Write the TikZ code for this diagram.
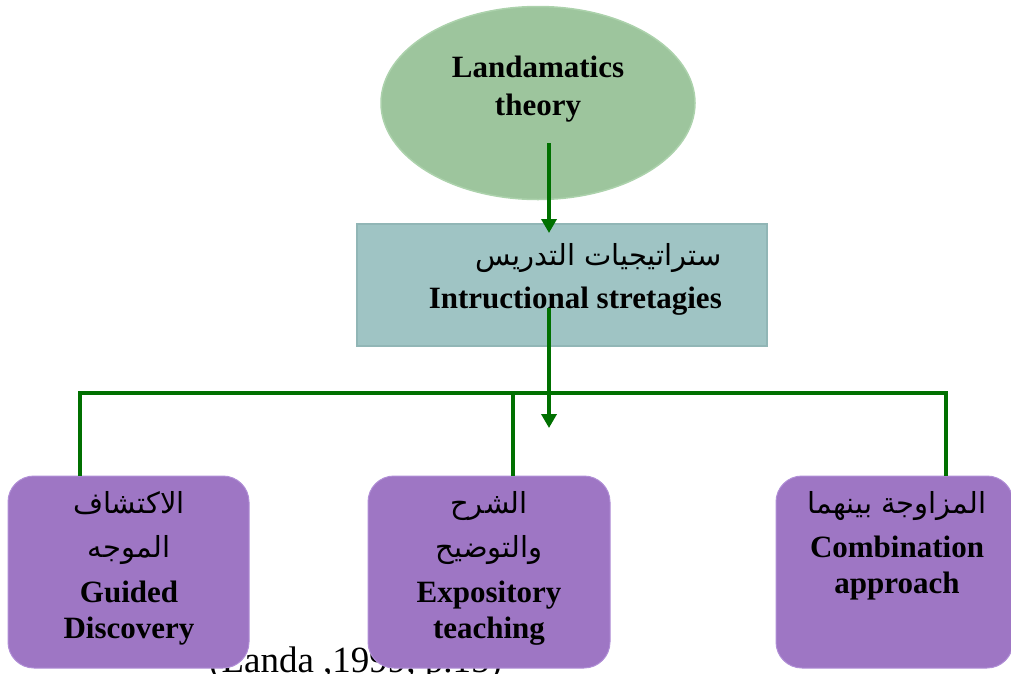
\documentclass[tikz,border=0pt]{standalone}
\usepackage{fontspec}
\setmainfont{Liberation Serif}
\newfontfamily\arabicfont[Script=Arabic]{DejaVu Sans}
\TeXXeTstate=1
\usetikzlibrary{shapes.geometric,arrows.meta}

\definecolor{theoryfill}{RGB}{157,197,157}
\definecolor{theoryedge}{RGB}{172,210,172}
\definecolor{stratfill}{RGB}{159,196,196}
\definecolor{strated}{RGB}{145,182,182}
\definecolor{methodfill}{RGB}{158,118,196}
\definecolor{methodedge}{RGB}{176,142,214}
\definecolor{linkgreen}{RGB}{0,112,0}

\tikzset{
  engline/.style={font=\fontsize{31}{36}\selectfont\bfseries, inner sep=0pt, anchor=base},
  arline/.style={font=\arabicfont\fontsize{29}{34}\selectfont, inner sep=0pt, anchor=base},
  methodbox/.style={draw=methodedge, line width=1pt, fill=methodfill, rounded corners=26pt},
  link/.style={draw=linkgreen, line width=4pt},
  flowarrow/.style={link, -{Triangle[width=15pt,length=14pt]}},
}

\begin{document}
\begin{tikzpicture}[x=1pt,y=-1pt]
\useasboundingbox (0,0) rectangle (1011,673);
\clip (0,0) rectangle (1011,673);

% source line, partly covered by the boxes
\node[font=\fontsize{37}{42}\selectfont, inner sep=0pt, anchor=base west] (source) at (209,672) {(Landa ,1999, p.15)};

% theory ellipse
\node[ellipse, draw=theoryedge, line width=1.5pt, fill=theoryfill,
      minimum width=314pt, minimum height=193pt] (theory) at (538,103) {};
\node[engline] (theoryA) at (538,77) {Landamatics};
\node[engline] (theoryB) at (538,115) {theory};

% strategies rectangle
\node[draw=strated, line width=1.5pt, fill=stratfill, minimum width=410pt,
      minimum height=122pt, inner sep=0pt] (strat) at (562,285) {};
\node[arline, anchor=base east] (stratAr) at (722,265) {\beginR ستراتيجيات التدريس\endR};
\node[engline, anchor=base east] (stratEn) at (722,308) {Intructional stretagies};

% three method boxes
\node[methodbox, minimum width=241pt, minimum height=192pt] (guided) at (128.5,572) {};
\node[methodbox, minimum width=242pt, minimum height=192pt] (expos) at (489,572) {};
\node[methodbox, minimum width=237pt, minimum height=192pt] (combo) at (894.5,572) {};

\node[arline] (guidedA) at (129,513) {\beginR الاكتشاف\endR};
\node[arline] (guidedB) at (129,557) {\beginR الموجه\endR};
\node[engline] (guidedC) at (129,602) {Guided};
\node[engline] (guidedD) at (129,638) {Discovery};

\node[arline] (exposA) at (489,513) {\beginR الشرح\endR};
\node[arline] (exposB) at (489,557) {\beginR والتوضيح\endR};
\node[engline] (exposC) at (489,602) {Expository};
\node[engline] (exposD) at (489,638) {teaching};

\node[arline] (comboA) at (897,513) {\beginR المزاوجة بينهما\endR};
\node[engline] (comboB) at (897,557) {Combination};
\node[engline] (comboC) at (897,593) {approach};

% connectors
\coordinate (a1s) at (549,143);
\coordinate (a1e) at (549,233);
\coordinate (a2s) at (549,308);
\coordinate (a2e) at (549,428);
\coordinate (busL) at (80,393);
\coordinate (busM) at (513,393);
\coordinate (busR) at (946,393);

\draw[flowarrow] (a1s) -- (a1e);
\draw[link] (busL |- guided.north) -- (busL) -- (busR) -- (busR |- combo.north);
\draw[link] (busM) -- (busM |- expos.north);
\draw[flowarrow] (a2s) -- (a2e);
\end{tikzpicture}
\end{document}
